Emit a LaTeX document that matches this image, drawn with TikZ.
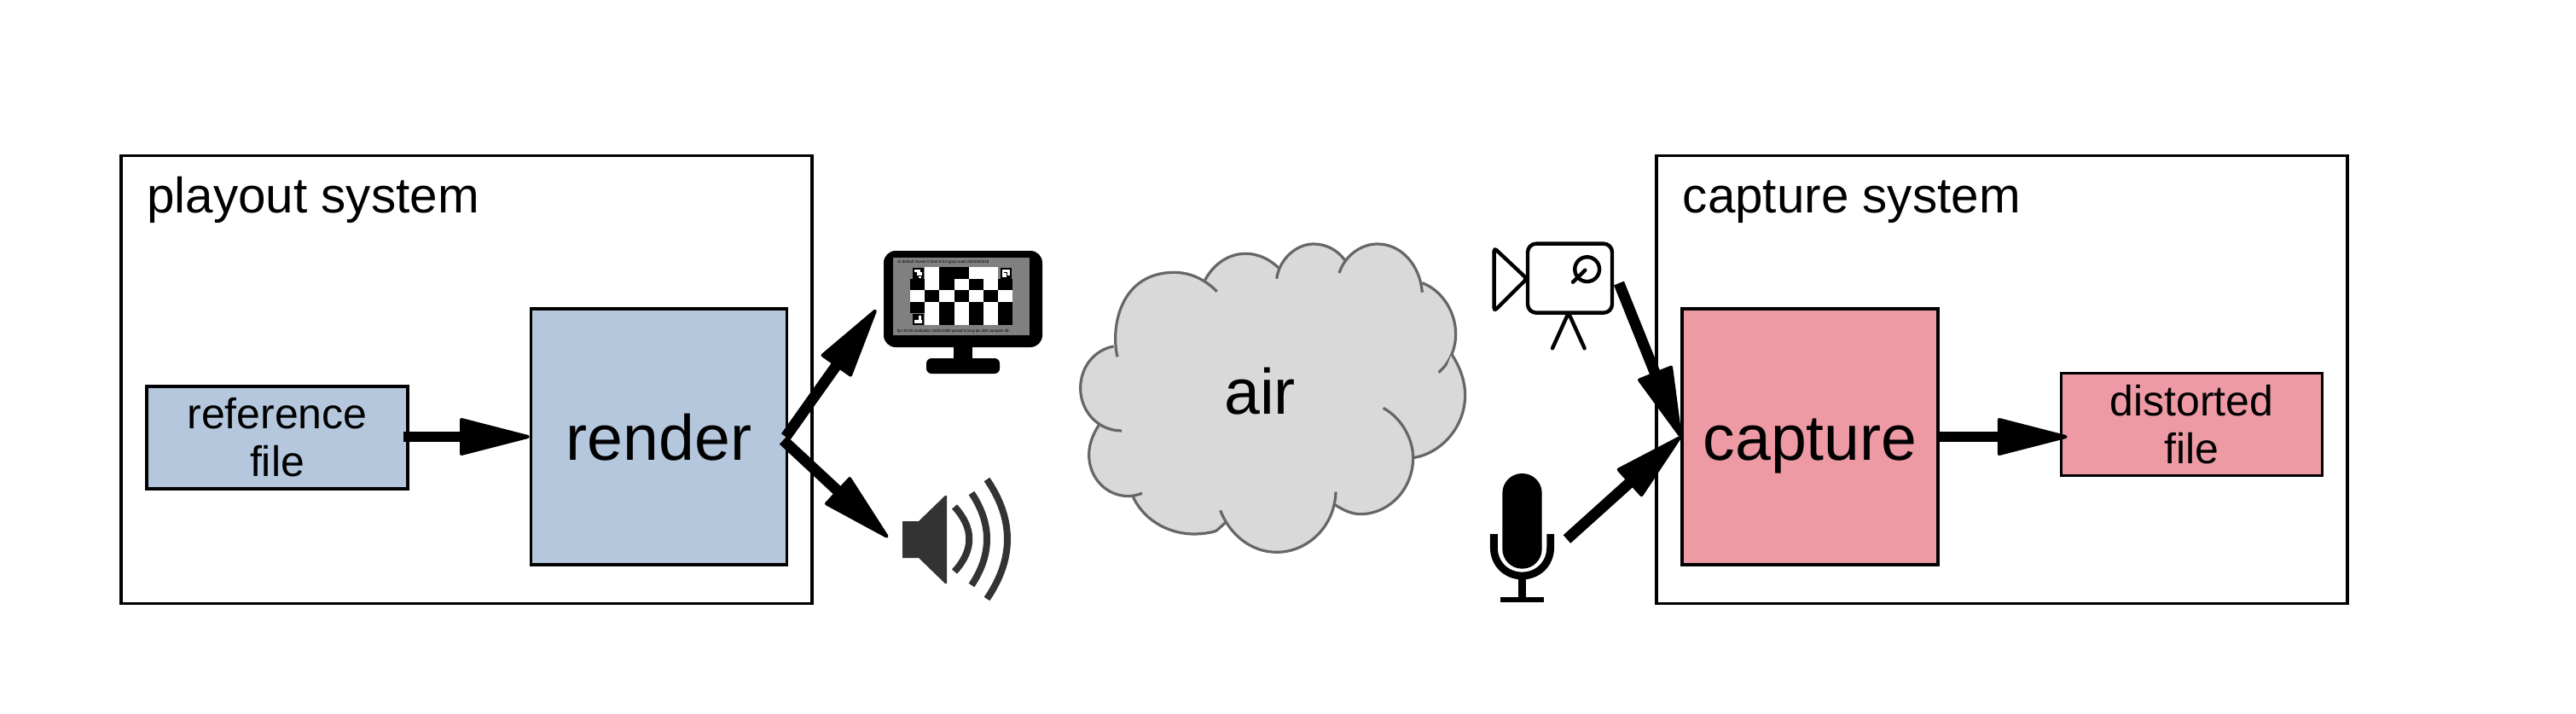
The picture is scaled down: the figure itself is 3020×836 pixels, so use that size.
\documentclass[tikz,border=0pt]{standalone}
\usepackage{fontspec}
\setmainfont{Liberation Sans}
\usetikzlibrary{arrows.meta}
\definecolor{boxblue}{HTML}{B4C7DC}
\definecolor{boxpink}{HTML}{EE9AA5}
\definecolor{cloudfill}{HTML}{D9D9D9}
\definecolor{cloudline}{HTML}{666666}
\definecolor{spk}{HTML}{333333}
\definecolor{scr}{HTML}{808080}
\tikzset{
  x=0.25pt,y=-0.25pt,
  sysbox/.style={draw=black,line width=0.85pt,fill=white,inner sep=0pt,minimum width=202.5pt,minimum height=131.25pt},
  bigbox/.style={draw=black,line width=0.85pt,inner sep=0pt,minimum width=75pt,minimum height=75pt,font=\fontsize{18.8}{22}\selectfont,text height=13.7pt,text depth=0pt},
  filebox/.style={draw=black,line width=0.85pt,inner sep=0pt,minimum width=76.5pt,minimum height=30pt,align=center,font=\fontsize{12.5}{14}\selectfont},
  titletext/.style={anchor=base west,inner sep=0pt,font=\fontsize{14.6}{17}\selectfont},
  flow/.style={line width=3.2pt,-{Triangle[length=22pt,width=11pt,line width=1pt,round]}},
  cam/.style={draw=black,line width=1.1pt,line cap=round,line join=round},
  arcwave/.style={draw=spk,line width=2pt},
  tinytext/.style={text=black,inner sep=0pt,anchor=base west,font=\fontsize{1.13}{1.4}\selectfont},
  lobe/.style={draw=cloudline,line width=0.8pt,preaction={fill=cloudfill}}
}
\begin{document}
\begin{tikzpicture}
\path[use as bounding box,fill=white] (0,0) rectangle (3020,836);
% system frames
\node[sysbox] (playout) at (547,445) {};
\node[sysbox] (capsys) at (2347,445) {};
\node[titletext] (playtitle) at (171.5,249) {playout system};
\node[titletext] (captitle) at (1972,249) {capture system};
% blocks
\node[filebox,fill=boxblue] (reference) at (325,513) {reference\\file};
\node[bigbox,fill=boxblue] (render) at (772.5,512) {render};
\node[bigbox,fill=boxpink] (capture) at (2122,512) {capture};
\node[filebox,fill=boxpink] (distorted) at (2569.5,497.5) {distorted\\file};
% cloud
\begin{scope}[shift={(1260,270)},x=0.08333pt,y=-0.08333pt]
\fill[cloudfill] (150,445) -- (165,260) -- (458,175) -- (720,135) -- (950,105) -- (1222,185) -- (1325,435) -- (1190,800) -- (915,965) -- (530,1028) -- (203,932) -- (85,685) -- (137,408) -- cycle;
\path[lobe] (1222,185) .. controls (1290,210) and (1340,285) .. (1340,365) .. controls (1340,415) and (1320,465) .. (1280,500);
\path[lobe] (1325,435) .. controls (1355,480) and (1373,530) .. (1373,580) .. controls (1373,690) and (1290,785) .. (1190,800);
\path[lobe] (1085,625) .. controls (1150,660) and (1190,735) .. (1190,800) .. controls (1190,910) and (1105,998) .. (1005,998) .. controls (975,998) and (945,985) .. (915,965);
\path[lobe] (530,1028) -- (500,1055) .. controls (490,1062) and (450,1068) .. (420,1068) .. controls (320,1068) and (235,1010) .. (203,932);
\path[lobe] (918,920) .. controls (915,1040) and (820,1132) .. (710,1132) .. controls (620,1132) and (545,1070) .. (512,985);
\path[lobe] (237,925) .. controls (215,932) and (200,935) .. (190,935) .. controls (110,935) and (50,870) .. (50,790) .. controls (50,750) and (65,715) .. (85,685);
\path[lobe] (165,705) .. controls (85,705) and (20,640) .. (20,555) .. controls (20,480) and (70,420) .. (137,408);
\path[lobe] (458,175) .. controls (490,115) and (545,82) .. (600,82) .. controls (650,82) and (690,105) .. (720,135);
\path[lobe] (150,445) .. controls (125,340) and (160,148) .. (350,148) .. controls (410,148) and (460,175) .. (500,215);
\path[lobe] (710,170) .. controls (720,100) and (780,48) .. (840,48) .. controls (885,48) and (925,70) .. (950,105);
\path[lobe] (930,150) .. controls (950,90) and (1005,48) .. (1065,48) .. controls (1150,48) and (1215,125) .. (1222,218);
\end{scope}
\node[anchor=base,inner sep=0pt,font=\fontsize{18.8}{22}\selectfont] (air) at (1477,485) {air};
% monitor
\fill[black,rounded corners=3.5pt] (1036,294) rectangle (1222,407);
\fill[black] (1118,405) rectangle (1140,424);
\fill[black,rounded corners=1.5pt] (1086,420) rectangle (1172,438);
\fill[scr] (1047,302) rectangle (1207,393);
\begin{scope}[shift={(1067,313)},x=4.3pt,y=-3.4pt]
\fill[white] (1,0) rectangle (6,5);
\fill[white] (0,2) rectangle (7,3);
\fill[black] (2,0) rectangle (4,1);
\foreach \c in {0,2,4,6}{\fill[black] (\c,1) rectangle (\c+1,2);\fill[black] (\c,3) rectangle (\c+1,4);}
\foreach \c in {1,3,5}{\fill[black] (\c,2) rectangle (\c+1,3);}
\foreach \c in {2,4,6}{\fill[black] (\c,4) rectangle (\c+1,5);}
\end{scope}
% corner markers
\fill[black] (1069.5,314) rectangle (1082.5,327);
\fill[white] (1071.5,316) rectangle (1079,319);
\fill[white] (1075,319) rectangle (1080.5,322.5);
\fill[white] (1076.5,323.5) rectangle (1079.5,325.5);
\fill[black] (1172.5,314) rectangle (1185.5,327);
\fill[white] (1174.5,316) rectangle (1183.5,318.5);
\fill[white] (1181,316) rectangle (1183.5,323);
\fill[white] (1174.5,316) rectangle (1177,325);
\fill[white] (1177,320) rectangle (1179.5,325);
\fill[black] (1069.5,368) rectangle (1082.5,381);
\fill[white] (1076.5,370) rectangle (1080,375);
\fill[white] (1071.5,375) rectangle (1080.5,378.5);
\node[tinytext] (osdtop) at (1051,308) {v0 default /scene 0 time 0.0.0 gray-scale 0000000018};
\node[tinytext] (osdbot) at (1051,389) {fps 30.00 resolution 1920x1080 period 5 long-lps 480 samples 48};
\coordinate (monitor) at (1027,363);
% speaker
\fill[spk,line join=round] (1058,611) -- (1077,611) -- (1108,581) -- (1110,581) -- (1110,684) -- (1108,684) -- (1077,654) -- (1058,654) -- cycle;
\draw[arcwave] (1119,594) .. controls (1142,619) and (1142,645) .. (1119,670);
\draw[arcwave] (1139,578) .. controls (1163,614) and (1163,650) .. (1139,686);
\draw[arcwave] (1157,562) .. controls (1189,609) and (1189,655) .. (1157,702);
\coordinate (speaker) at (1041,630);
% camera
\begin{scope}[shift={(1740,270)},x=0.08333pt,y=-0.08333pt]
\draw[cam,rounded corners=0.9pt] (35,62) -- (150,170) -- (35,284) -- cycle;
\draw[cam,fill=white,rounded corners=2.5pt] (153,47) rectangle (450,290);
\draw[cam] (362,137) circle[radius=3.6pt];
\draw[cam] (355,140) -- (312,182);
\draw[cam] (293,298) -- (240,415);
\draw[cam] (300,298) -- (353,415);
\end{scope}
\coordinate (camera) at (1898,332);
% microphone
\begin{scope}[shift={(1740,540)},x=0.08333pt,y=-0.08333pt]
\fill[black,rounded corners=5.75pt] (64,45) rectangle (203,380);
\draw[black,line width=2.2pt] (34,258) -- (34,305) .. controls (34,365) and (80,405) .. (133,405) .. controls (187,405) and (233,365) .. (233,305) -- (233,258);
\fill[black] (120,405) rectangle (148,485);
\fill[black] (58,480) rectangle (210,497);
\end{scope}
\coordinate (mic) at (1837,632);
% connectors
\draw[flow,shorten <=-1.8pt] (reference.east |- render.west) -- (render.west);
\draw[flow] ([shift={(-3,0)}]render.east) -- (monitor);
\draw[flow] ([shift={(-6,4)}]render.east) -- (speaker);
\draw[flow,shorten >=-2.2pt] (capture.east) -- (distorted.west |- capture.east);
\draw[flow] (camera) -- (capture.west);
\draw[flow] (mic) -- (capture.west);
\end{tikzpicture}
\end{document}
